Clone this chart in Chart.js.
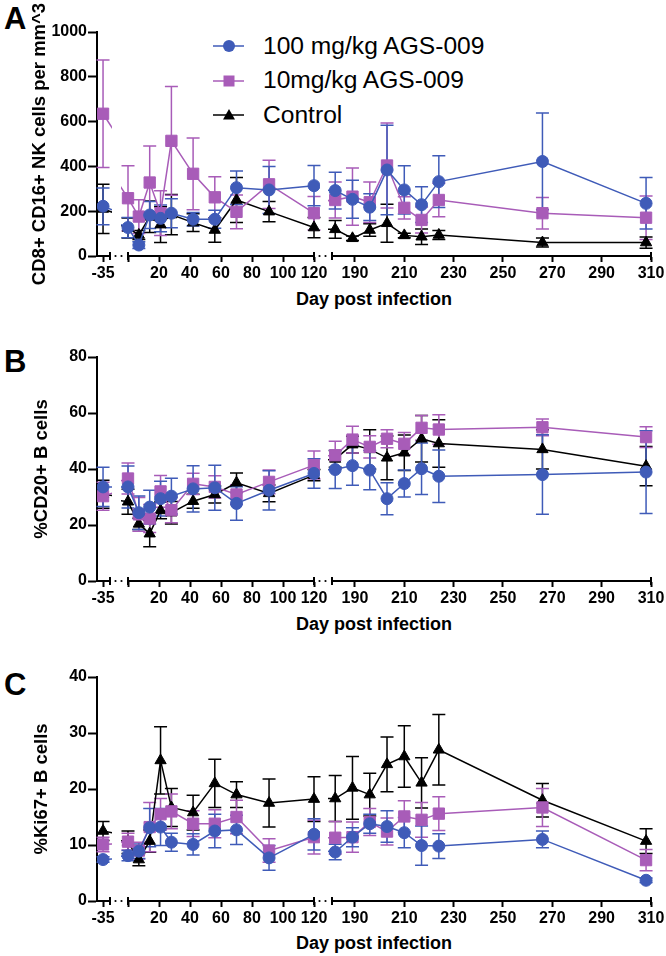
<!DOCTYPE html>
<html>
<head>
<meta charset="utf-8">
<script src="https://cdn.jsdelivr.net/npm/chart.js@4.4.1/dist/chart.umd.min.js"></script>
<style>
html,body{margin:0;padding:0;background:#fff;}
#fig{position:relative;width:666px;height:956px;overflow:hidden;font-family:'Liberation Sans',Arial,sans-serif;color:#000;}
#fig canvas{position:absolute;}
.letter{position:absolute;left:4px;font-weight:bold;font-size:31px;line-height:1;}
.xtitle{position:absolute;left:274px;width:200px;text-align:center;font-weight:bold;font-size:18px;line-height:1;white-space:nowrap;}
#legend{position:absolute;left:205px;top:29px;}
.row{display:flex;align-items:center;height:34.5px;font-size:24.6px;line-height:1;white-space:nowrap;}
.row svg{margin-right:10px;}
</style>
</head>
<body>
<div id="fig">
  <div class="letter" style="top:3px">A</div>
  <div class="letter" style="top:346px">B</div>
  <div class="letter" style="top:669px">C</div>
  <div class="xtitle" style="top:290px">Day post infection</div>
  <div class="xtitle" style="top:615px">Day post infection</div>
  <div class="xtitle" style="top:934px">Day post infection</div>
  <div id="legend"></div>
</div>
<script>
// sampling days (x)
const DAYS = [-35, 0, 7, 14, 21, 28, 42, 56, 70, 91, 120, 182, 189, 196, 203, 210, 217, 224, 266, 308];

const SERIES_LABELS = ['100 mg/kg AGS-009', '10mg/kg AGS-009', 'Control'];

// panel A: CD8+ CD16+ NK cells per mm^3
const A_100     = [222, 127, 49, 183, 168, 191, 164, 164, 305, 295, 314, 292, 253, 218, 384, 295, 229, 332, 422, 235];
const A_100_ERR = [82, 45, 15, 60, 60, 65, 30, 40, 75, 105, 90, 82, 85, 60, 200, 108, 80, 115, 216, 115];
const A_10      = [635, 258, 176, 328, 191, 514, 367, 262, 197, 320, 191, 250, 265, 240, 404, 215, 161, 250, 191, 171];
const A_10_ERR  = [240, 145, 75, 163, 100, 243, 160, 92, 75, 108, 75, 80, 128, 90, 190, 50, 58, 75, 70, 97];
const A_CTRL    = [210, 125, 94, 175, 140, 185, 149, 116, 250, 198, 127, 119, 79, 116, 146, 92, 86, 94, 60, 60];
const A_CTRL_ERR= [110, 45, 20, 70, 80, 90, 40, 55, 100, 45, 45, 40, 10, 28, 85, 10, 35, 20, 20, 25];

// panel B: %CD20+ B cells
const B_100     = [33.6, 33.6, 24.4, 26.4, 29.4, 30.3, 32.9, 33.3, 27.7, 32.4, 38.4, 39.8, 41.2, 39.6, 29.4, 34.8, 40.1, 37.4, 38.0, 38.9];
const B_100_ERR = [7, 7.5, 6, 6, 6.2, 6.4, 8.3, 8, 6, 7, 5.3, 6.8, 7, 7, 5.7, 4.8, 9.2, 9.4, 14.2, 14.8];
const B_10      = [30.3, 36.6, 23.8, 22.3, 32, 25.3, 34.7, 33.6, 30.9, 35.4, 41.4, 44.9, 50.5, 47.9, 50.8, 49, 54.7, 54.1, 54.9, 51.4];
const B_10_ERR  = [5, 5.5, 6, 5, 5.7, 4.5, 3.8, 4, 3.5, 4.2, 5, 5, 4.8, 4, 3.2, 4, 4.4, 5.3, 3, 3.7];
const B_CTRL    = [31, 28.3, 20.4, 16.9, 25.2, 24.4, 28.5, 30.9, 35.1, 31.3, 37.8, 43.6, 48.7, 47, 44, 45.8, 50.8, 49.1, 47, 41];
const B_CTRL_ERR= [5, 4.5, 2, 4.7, 3, 4, 2.5, 3, 3.5, 3, 2, 3, 3, 7, 7.8, 6.3, 8.3, 8.5, 7, 7];

// panel C: %Ki67+ B cells
const C_100     = [7.4, 8.1, 8.9, 13.1, 13.2, 10.5, 10.1, 12.5, 12.7, 7.7, 11.9, 8.75, 11.4, 13.8, 13.3, 12.2, 9.9, 9.8, 11.0, 3.7];
const C_100_ERR = [0.5, 0.9, 1.3, 3.4, 3.3, 1.6, 1.9, 3, 2.6, 2.2, 2.8, 1.4, 1.7, 1.7, 2.8, 2.7, 3.5, 2.2, 1.5, 0.4];
const C_10      = [10.1, 10.6, 9, 13.2, 15.5, 16, 13.8, 13.8, 15, 9, 11.4, 11.3, 11.4, 14.1, 12.4, 15.1, 14.5, 15.6, 16.7, 7.3];
const C_10_ERR  = [1.3, 1.5, 1.5, 4.4, 2.8, 3.1, 2.3, 2.5, 3, 2.1, 3, 2.9, 2.7, 2.4, 2.4, 2.8, 3.1, 3, 3.4, 1.9];
const C_CTRL    = [12.5, 10.5, 7.4, 10.7, 25.1, 16.7, 15.8, 21, 19, 17.5, 18.2, 18.3, 20.2, 19, 24.4, 25.8, 21.1, 27, 18, 10.7];
const C_CTRL_ERR= [1.7, 2, 1.1, 2, 6, 3.4, 3.1, 4.3, 2.3, 4.3, 4, 4.1, 5.6, 3.8, 4.9, 5.5, 4.5, 6.3, 3, 2.2];

// x tick labels per axis segment
const SEG1_TICKS = [-35];
const SEG2_TICKS = [0, 20, 40, 60, 80, 100, 120];
const SEG3_TICKS = [190, 210, 230, 250, 270, 290, 310];

const COLORS = ['#3f5bb8', '#a85cb8', '#000000'];
const STYLES = [{pointStyle:'circle', r:6}, {pointStyle:'rect', r:8}, {pointStyle:'triangle', r:6.5}];

const PANELS = [
  {top:0,   yMax:1000, yStep:200, title:'CD8+ CD16+ NK cells per mm^3', titlePad:29,
   means:[A_100, A_10, A_CTRL], errs:[A_100_ERR, A_10_ERR, A_CTRL_ERR]},
  {top:325, yMax:80,   yStep:20,  title:'%CD20+ B cells', titlePad:31,
   means:[B_100, B_10, B_CTRL], errs:[B_100_ERR, B_10_ERR, B_CTRL_ERR]},
  {top:645, yMax:40,   yStep:10,  title:'%Ki67+ B cells', titlePad:31,
   means:[C_100, C_10, C_CTRL], errs:[C_100_ERR, C_10_ERR, C_CTRL_ERR]}
];

// broken x axis: three side-by-side charts per panel
const SEGS = [
  {left:0,   width:130, padL:0,  min:-38.9, max:-30.5, ticks:SEG1_TICKS, yAxis:true,
   clip:{left:0, right:2, top:12, bottom:12}, capL:false, capR:true, dots:true},
  {left:118, width:216, padL:10, min:0,     max:120,   ticks:SEG2_TICKS, yAxis:false,
   clip:{left:7, right:6, top:12, bottom:12}, capL:true, capR:true, dots:true},
  {left:322, width:349, padL:10, min:180.7, max:310,   ticks:SEG3_TICKS, yAxis:false,
   clip:{left:4, right:8, top:12, bottom:12}, capL:true, capR:true, dots:false}
];

Chart.defaults.font.family = "'Liberation Sans', Arial, sans-serif";
Chart.defaults.color = '#000';

const errorBars = {
  id: 'errorBars',
  beforeDatasetsDraw(chart) {
    const {ctx, scales:{x, y}} = chart;
    ctx.save();
    ctx.lineWidth = 1.5;
    for (let d = chart.data.datasets.length - 1; d >= 0; d--) {
      const ds = chart.data.datasets[d];
      ctx.strokeStyle = ds.borderColor;
      ds.data.forEach((p, i) => {
        if (p.x < x.min || p.x > x.max) return;
        const px = x.getPixelForValue(p.x);
        const hi = y.getPixelForValue(p.y + ds.errors[i]);
        const lo = y.getPixelForValue(p.y - ds.errors[i]);
        ctx.beginPath();
        ctx.moveTo(px, hi); ctx.lineTo(px, lo);
        ctx.moveTo(px - 6.5, hi); ctx.lineTo(px + 6.5, hi);
        ctx.moveTo(px - 6.5, lo); ctx.lineTo(px + 6.5, lo);
        ctx.stroke();
      });
    }
    ctx.restore();
  }
};

const axisBreaks = {
  id: 'axisBreaks',
  afterDraw(chart, args, opts) {
    const {ctx, chartArea:{left, right, bottom}} = chart;
    ctx.save();
    ctx.strokeStyle = '#000'; ctx.fillStyle = '#000'; ctx.lineWidth = 2;
    const cap = x => { ctx.beginPath(); ctx.moveTo(x, bottom - 4); ctx.lineTo(x, bottom + 4); ctx.stroke(); };
    if (opts.capL) cap(left);
    if (opts.capR) cap(right);
    if (opts.dots) [5.5, 11.5].forEach(dx => {
      ctx.beginPath(); ctx.arc(right + dx, bottom, 1.1, 0, Math.PI * 2); ctx.fill();
    });
    ctx.restore();
  }
};

function datasetsFor(panel, seg) {
  return SERIES_LABELS.map((label, k) => ({
    label,
    data: DAYS.map((d, i) => ({x:d, y:panel.means[k][i]})),
    errors: panel.errs[k],
    borderColor: COLORS[k], backgroundColor: COLORS[k],
    borderWidth: 1.5, tension: 0,
    pointStyle: STYLES[k].pointStyle, pointRadius: STYLES[k].r, pointBorderWidth: 1,
    clip: seg.clip
  }));
}

function makeChart(panel, seg) {
  const cv = document.createElement('canvas');
  cv.width = seg.width; cv.height = 296;
  cv.style.left = seg.left + 'px'; cv.style.top = panel.top + 'px';
  document.getElementById('fig').appendChild(cv);
  return new Chart(cv.getContext('2d'), {
    type: 'line',
    data: {datasets: datasetsFor(panel, seg)},
    options: {
      responsive: false, animation: false,
      layout: {padding: {left: seg.padL, right: 20, top: 32, bottom: 0}},
      plugins: {legend: {display: false}, tooltip: {enabled: false}, axisBreaks: seg},
      scales: {
        x: {
          type: 'linear', min: seg.min, max: seg.max,
          afterBuildTicks: s => { s.ticks = seg.ticks.map(v => ({value: v})); },
          afterFit: s => { s.height = 40; },
          ticks: {font: {size: 16, weight: 'bold'}, padding: 2, maxRotation: 0,
                  callback: v => v === 0 ? '' : String(v)},
          grid: {drawOnChartArea: false, tickLength: 6, tickWidth: 2, tickColor: '#000', color: '#000'},
          border: {color: '#000', width: 2}
        },
        y: {
          display: seg.yAxis, min: 0, max: panel.yMax,
          afterFit: s => { s.width = seg.yAxis ? 97 : 0; },
          ticks: {stepSize: panel.yStep, font: {size: 16, weight: 'bold'}, padding: 1,
                  callback: v => String(v)},
          grid: {drawOnChartArea: false, tickLength: 9, tickWidth: 2, tickColor: '#000', color: '#000'},
          border: {color: '#000', width: 2},
          title: {display: true, text: panel.title, font: {size: 18.5, weight: 'bold'},
                  padding: {top: panel.titlePad, bottom: 0}}
        }
      }
    },
    plugins: [errorBars, axisBreaks]
  });
}

PANELS.forEach(p => SEGS.forEach(s => makeChart(p, s)));

// legend
const MARKERS = [
  c => `<circle cx="24" cy="12" r="6" fill="${c}"/>`,
  c => `<rect x="18.5" y="6.5" width="11" height="11" fill="${c}"/>`,
  c => `<polygon points="24,6 30,16.5 18,16.5" fill="${c}"/>`
];
document.getElementById('legend').innerHTML = SERIES_LABELS.map((label, k) =>
  `<div class="row"><svg width="48" height="24"><line x1="8" y1="12" x2="39" y2="12" stroke="${COLORS[k]}" stroke-width="1.5"/>${MARKERS[k](COLORS[k])}</svg><span>${label}</span></div>`
).join('');
</script>
</body>
</html>
